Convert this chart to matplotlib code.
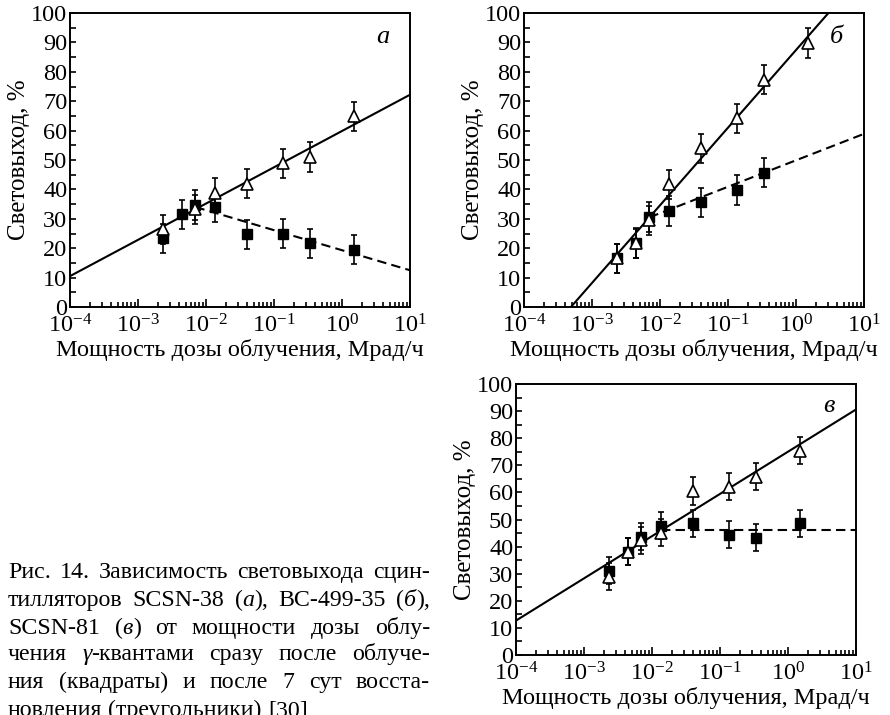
import matplotlib
matplotlib.use("Agg")
import matplotlib.pyplot as plt
from matplotlib.ticker import LogLocator, MultipleLocator, NullFormatter

plt.rcParams["font.family"] = ["Liberation Serif", "DejaVu Serif"]
plt.rcParams["mathtext.fontset"] = "custom"
plt.rcParams["mathtext.rm"] = "Liberation Serif"
plt.rcParams["mathtext.it"] = "Liberation Serif:italic"
plt.rcParams["font.size"] = 17.5

# dose rates, Mrad/h
dose = [2.3e-3, 4.5e-3, 7.0e-3, 0.0136, 0.040, 0.137, 0.34, 1.5]
err = 5.0

# SCSN-38
a_sq_x = dose
a_sq = [23.3, 31.5, 34.7, 33.9, 24.7, 25.0, 21.6, 19.5]
a_tri_x = [2.3e-3, 7.0e-3, 0.0136, 0.040, 0.137, 0.34, 1.5]
a_tri = [26.4, 33.2, 38.9, 42.0, 48.9, 51.0, 64.8]
a_fit_x, a_fit_y = [1e-4, 10], [10.5, 72.2]
a_dash_x, a_dash_y = [7.0e-3, 10], [34.0, 12.5]

# BC-499-35
b_sq_x = dose[:7]
b_sq = [16.5, 21.8, 30.6, 32.7, 35.6, 39.8, 45.7]
b_tri_x = dose
b_tri = [16.5, 21.6, 29.5, 41.7, 54.0, 64.2, 77.3, 89.8]
b_fit_x, b_fit_y = [4.9e-4, 3.0], [0.0, 100.0]
b_dash_x, b_dash_y = [7.0e-3, 10], [30.5, 58.9]

# SCSN-81
c_sq_x = dose
c_sq = [31.1, 38.1, 43.7, 47.7, 48.6, 44.3, 43.3, 48.6]
c_tri_x = dose
c_tri = [28.9, 38.1, 42.4, 45.1, 60.5, 62.1, 65.8, 75.4]
c_fit_x, c_fit_y = [1e-4, 10], [12.7, 90.6]
c_dash_x, c_dash_y = [0.0136, 10], [46.0, 46.0]

W, H = 890, 715
fig = plt.figure(figsize=(W / 100, H / 100), dpi=100)


def px_axes(left, top, right, bottom):
    return fig.add_axes([left / W, 1 - bottom / H, (right - left) / W, (bottom - top) / H])


def panel(ax, sq_x, sq, tri_x, tri, fit_x, fit_y, dash_x, dash_y, letter):
    ax.plot(fit_x, fit_y, color="black", lw=1.5, zorder=2)
    ax.plot(dash_x, dash_y, color="black", lw=1.5, ls=(0, (4.5, 2.5)), zorder=2)
    ax.errorbar(sq_x, sq, yerr=err, fmt="s", ms=7.5, mfc="black", mec="black",
                ecolor="black", elinewidth=1.2, capsize=2.5, capthick=1.2, zorder=3)
    ax.errorbar(tri_x, tri, yerr=err, fmt="^", ms=8.5, mfc="white", mec="black", mew=1.2,
                ecolor="black", elinewidth=1.2, capsize=2.5, capthick=1.2, zorder=4)
    ax.set_xscale("log")
    ax.set_xlim(1e-4, 10)
    ax.set_ylim(0, 100)
    ax.xaxis.set_major_locator(LogLocator(base=10, numticks=10))
    ax.xaxis.set_minor_locator(LogLocator(base=10, subs=range(2, 10), numticks=20))
    ax.xaxis.set_minor_formatter(NullFormatter())
    ax.yaxis.set_major_locator(MultipleLocator(10))
    ax.yaxis.set_minor_locator(MultipleLocator(5))
    ax.tick_params(which="both", direction="in", top=False, right=False, width=1.2,
                   labelsize=17.5)
    ax.tick_params(axis="x", which="major", length=6, pad=5)
    ax.tick_params(axis="x", which="minor", length=3.5)
    ax.tick_params(axis="y", which="both", length=4, pad=2)
    for s in ax.spines.values():
        s.set_linewidth(1.4)
    ax.set_xlabel("Мощность дозы облучения, Мрад/ч", fontsize=17.5, labelpad=1)
    ax.set_ylabel("Световыход, %", fontsize=18, labelpad=1)
    ax.text(0.92, 0.92, letter, transform=ax.transAxes, fontsize=19, style="italic",
            ha="center", va="center")


ax_a = px_axes(70, 13, 410, 307)
panel(ax_a, a_sq_x, a_sq, a_tri_x, a_tri, a_fit_x, a_fit_y, a_dash_x, a_dash_y, "а")
ax_b = px_axes(524, 13, 864, 307)
panel(ax_b, b_sq_x, b_sq, b_tri_x, b_tri, b_fit_x, b_fit_y, b_dash_x, b_dash_y, "б")
ax_c = px_axes(516, 384, 856, 655)
panel(ax_c, c_sq_x, c_sq, c_tri_x, c_tri, c_fit_x, c_fit_y, c_dash_x, c_dash_y, "в")

# caption, justified between two margins; each word is a list of (text, italic)
caption = [
    [[("Рис.", 0)], [("14.", 0)], [("Зависимость", 0)], [("световыхода", 0)], [("сцин-", 0)]],
    [[("тилляторов", 0)], [("SCSN-38", 0)], [("(", 0), ("а", 1), ("),", 0)],
     [("BC-499-35", 0)], [("(", 0), ("б", 1), ("),", 0)]],
    [[("SCSN-81", 0)], [("(", 0), ("в", 1), (")", 0)], [("от", 0)], [("мощности", 0)],
     [("дозы", 0)], [("облу-", 0)]],
    [[("чения", 0)], [("γ", 1), ("-квантами", 0)], [("сразу", 0)], [("после", 0)],
     [("облуче-", 0)]],
    [[("ния", 0)], [("(квадраты)", 0)], [("и", 0)], [("после", 0)], [("7", 0)], [("сут", 0)],
     [("восста-", 0)]],
    [[("новления", 0)], [("(треугольники)", 0)], [("[30]", 0)]],
]
cap_left, cap_right = 8, 430
cap_base = [578, 606, 634, 660, 688, 716]
cap_size = 17.2

renderer = fig.canvas.get_renderer()


def piece_width(text, italic):
    t = fig.text(0, 0, text, fontsize=cap_size, style="italic" if italic else "normal")
    w = t.get_window_extent(renderer=renderer).width
    t.remove()
    return w


space = piece_width("a b", 0) - piece_width("ab", 0)
for i, (words, base) in enumerate(zip(caption, cap_base)):
    widths = [[piece_width(p, it) for p, it in word] for word in words]
    total = sum(sum(w) for w in widths)
    if i < len(caption) - 1:
        gap = (cap_right - cap_left - total) / (len(words) - 1)
    else:
        gap = space
    x = cap_left
    for word, ws in zip(words, widths):
        for (p, it), w in zip(word, ws):
            fig.text(x / W, 1 - base / H, p, fontsize=cap_size,
                     style="italic" if it else "normal", va="baseline", ha="left")
            x += w
        x += gap

fig.savefig("out.png", dpi=100)
